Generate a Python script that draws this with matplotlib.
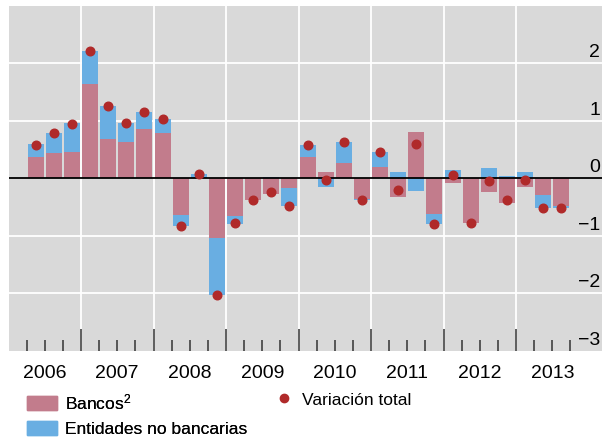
import numpy as np
import matplotlib
matplotlib.use("Agg")
from matplotlib import pyplot as plt
from matplotlib import transforms
from matplotlib.patches import Patch
from matplotlib.lines import Line2D

plt.rcParams['font.family'] = ['Liberation Sans', 'DejaVu Sans']
plt.rcParams['mathtext.fontset'] = 'custom'
plt.rcParams['mathtext.rm'] = 'Liberation Sans'
plt.rcParams['mathtext.it'] = 'Liberation Sans'

# Data: quarterly, 2006Q2 .. 2013Q3
years = ['2006', '2007', '2008', '2009', '2010', '2011', '2012', '2013']
bancos = [0.37, 0.44, 0.46,
          1.64, 0.68, 0.63, 0.86,
          0.79, -0.64, 0.0, -1.03,
          -0.66, -0.37, -0.27, -0.16,
          0.37, 0.11, 0.27, -0.36,
          0.20, -0.32, 0.81, -0.62,
          -0.08, -0.77, -0.23, -0.42,
          -0.15, -0.29, -0.48]
no_bancarias = [0.23, 0.35, 0.50,
                0.57, 0.58, 0.33, 0.29,
                0.24, -0.19, 0.07, -0.99,
                -0.13, -0.01, 0.03, -0.32,
                0.21, -0.15, 0.36, -0.02,
                0.26, 0.11, -0.22, -0.17,
                0.14, -0.01, 0.18, 0.04,
                0.11, -0.22, -0.03]
total = [0.59, 0.79, 0.95,
         2.22, 1.26, 0.96, 1.15,
         1.03, -0.82, 0.07, -2.03,
         -0.78, -0.37, -0.24, -0.47,
         0.58, -0.03, 0.63, -0.37,
         0.46, -0.20, 0.60, -0.79,
         0.06, -0.78, -0.05, -0.37,
         -0.03, -0.51, -0.52]
first_q = 1  # data starts in the 2nd quarter of 2006
y_labels = [2, 1, 0, -1, -2, -3]

PINK = '#C27C8C'
BLUE = '#69AEE2'
RED = '#B02A2A'
GRAY = '#D9D9D9'

b = np.array(bancos)
n = np.array(no_bancarias)
x = np.arange(first_q, first_q + len(b)) + 0.5
# blue stacks on pink when same sign, otherwise starts from zero
nb_bottom = np.where(np.sign(n) == np.sign(b), b, 0.0)

fig = plt.figure(figsize=(6.02, 4.40), dpi=100)
ax = fig.add_axes([8.5 / 602, 89 / 440, 593.5 / 602, 345 / 440])
ax.set_facecolor(GRAY)
for s in ax.spines.values():
    s.set_visible(False)

nyears = len(years)
ax.set_xlim(0, 593.5 / 18.125)
ax.set_ylim(-3, 3)

# grid
for k in range(1, nyears):
    ax.axvline(4 * k, color='white', lw=1.3, zorder=0)
for v in [-2, -1, 1, 2]:
    ax.axhline(v, color='white', lw=1.3, zorder=0)

ax.bar(x, b, width=0.88, color=PINK, zorder=2)
ax.bar(x, n, width=0.88, bottom=nb_bottom, color=BLUE, zorder=2)
ax.axhline(0, color='black', lw=1.3, zorder=3)
ax.plot(x, total, 'o', color=RED, ms=6.2, zorder=4)

# ticks inside at quarter boundaries
bounds = np.arange(1, first_q + len(b) + 1)
major = [q for q in bounds if q % 4 == 0]
minor = [q for q in bounds if q % 4 != 0]
ax.set_xticks(major)
ax.set_xticks(minor, minor=True)
ax.tick_params(axis='x', which='major', direction='in', length=16, width=1.1,
               color='#333333', labelbottom=False)
ax.tick_params(axis='x', which='minor', direction='in', length=8, width=1.1,
               color='#333333', labelbottom=False)
ax.set_yticks([])

# year labels
tr = transforms.blended_transform_factory(ax.transData, fig.transFigure)
for i, yr in enumerate(years):
    ax.text(4 * i + 2, 1 - 373 / 440, yr, transform=tr, ha='center', va='center',
            fontsize=14)

# y labels inside, on the right, above the gridlines
ytr = transforms.offset_copy(ax.get_yaxis_transform(), fig=fig, x=0, y=1.5, units='points')
for v in y_labels:
    ax.text(0.997, v, str(v).replace('-', '\u2212'), transform=ytr,
            ha='right', va='bottom', fontsize=14)

# legend, two blocks
leg1 = fig.legend([Patch(color=PINK), Patch(color=BLUE)],
                  ['Bancos$^2$', 'Entidades no bancarias'],
                  loc='upper left', bbox_to_anchor=(27 / 602, 1 - 392 / 440),
                  frameon=False, fontsize=12.5, borderpad=0, borderaxespad=0,
                  handlelength=1.72, handleheight=0.85, handletextpad=0.45,
                  labelspacing=0.55)
fig.add_artist(leg1)
fig.legend([Line2D([], [], marker='o', ls='', color=RED, ms=6)],
           ['Variación total'],
           loc='upper left', bbox_to_anchor=(275 / 602, 1 - 392 / 440),
           frameon=False, fontsize=12.5, borderpad=0, borderaxespad=0,
           handlelength=1.0, handleheight=0.85, handletextpad=0.53)

fig.savefig('out.png', dpi=100)
